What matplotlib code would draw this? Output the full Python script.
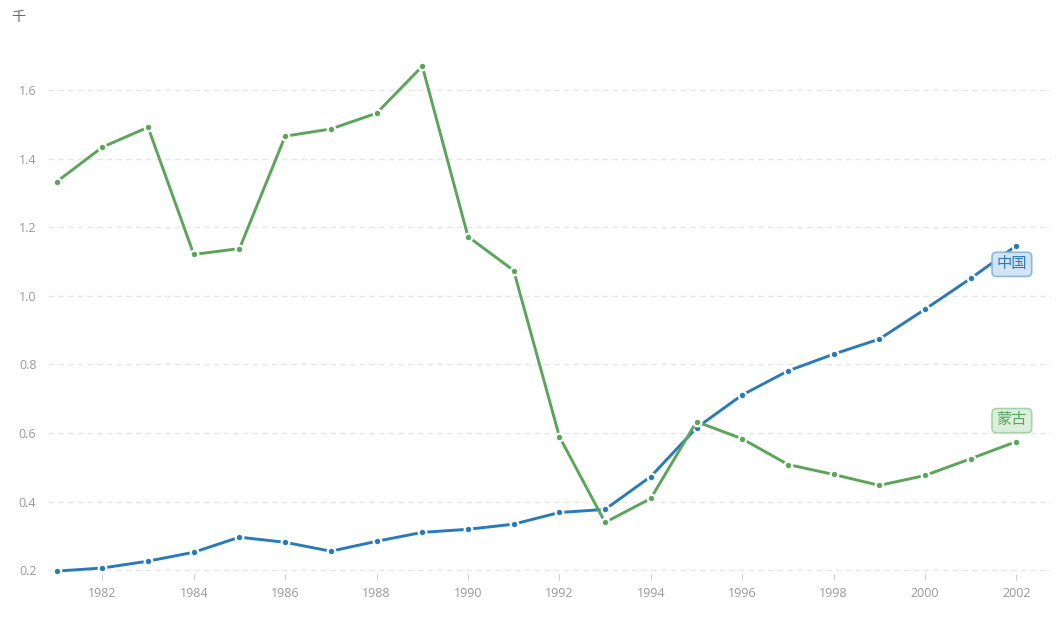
import matplotlib
matplotlib.use("Agg")
import matplotlib.pyplot as plt

plt.rcParams['font.family'] = ['Open Sans', 'Noto Sans CJK SC', 'DejaVu Sans']

years = list(range(1981, 2003))
china = [0.197, 0.206, 0.226, 0.252, 0.296, 0.281, 0.255, 0.284, 0.310, 0.319, 0.334,
         0.368, 0.377, 0.473, 0.615, 0.711, 0.781, 0.830, 0.874, 0.961, 1.051, 1.147]
mongolia = [1.333, 1.434, 1.492, 1.121, 1.138, 1.466, 1.487, 1.533, 1.670, 1.173, 1.074,
            0.589, 0.339, 0.409, 0.633, 0.583, 0.508, 0.479, 0.447, 0.476, 0.525, 0.575]
names = ['中国', '蒙古']
colors = ['#2a7ab9', '#5ba55b']
fills = ['#d4e4f1', '#dcefdc']
edges = ['#8db8dc', '#a6d3a6']

fig = plt.figure(figsize=(10.56, 6.2), dpi=100)
ax = fig.add_axes([0.045, 0.075, 0.95, 0.89])

for vals, c in zip([china, mongolia], colors):
    ax.plot(years, vals, color=c, lw=2.1, marker='o', ms=5.5,
            mfc=c, mec='white', mew=1.6, zorder=3)

# end labels
ax.text(2001.9, 1.092, names[0], color=colors[0], fontsize=11, ha='center', va='center',
        bbox=dict(boxstyle='round,pad=0.3', fc=fills[0], ec=edges[0], lw=1.2), zorder=4)
ax.text(2001.9, 0.636, names[1], color=colors[1], fontsize=11, ha='center', va='center',
        bbox=dict(boxstyle='round,pad=0.3', fc=fills[1], ec=edges[1], lw=1.2), zorder=4)

ax.set_xlim(1980.8, 2002.75)
ax.set_ylim(0.19, 1.80)
ax.set_yticks([0.2, 0.4, 0.6, 0.8, 1.0, 1.2, 1.4, 1.6])
ax.set_yticklabels(['0.2', '0.4', '0.6', '0.8', '1.0', '1.2', '1.4', '1.6'])
ax.set_xticks(range(1982, 2003, 2))
ax.grid(axis='y', color='#e6e6e6', ls=(0, (4, 3)), lw=1)
ax.set_axisbelow(True)
for s in ax.spines.values():
    s.set_visible(False)
ax.tick_params(axis='y', length=0, labelsize=9, colors='#999999', pad=8)
ax.tick_params(axis='x', length=4, color='#cccccc', labelsize=9, labelcolor='#999999', pad=6)

fig.text(0.011, 0.972, '千', fontsize=10, color='#666666', ha='left', va='center')

fig.savefig('out.png', dpi=100)
